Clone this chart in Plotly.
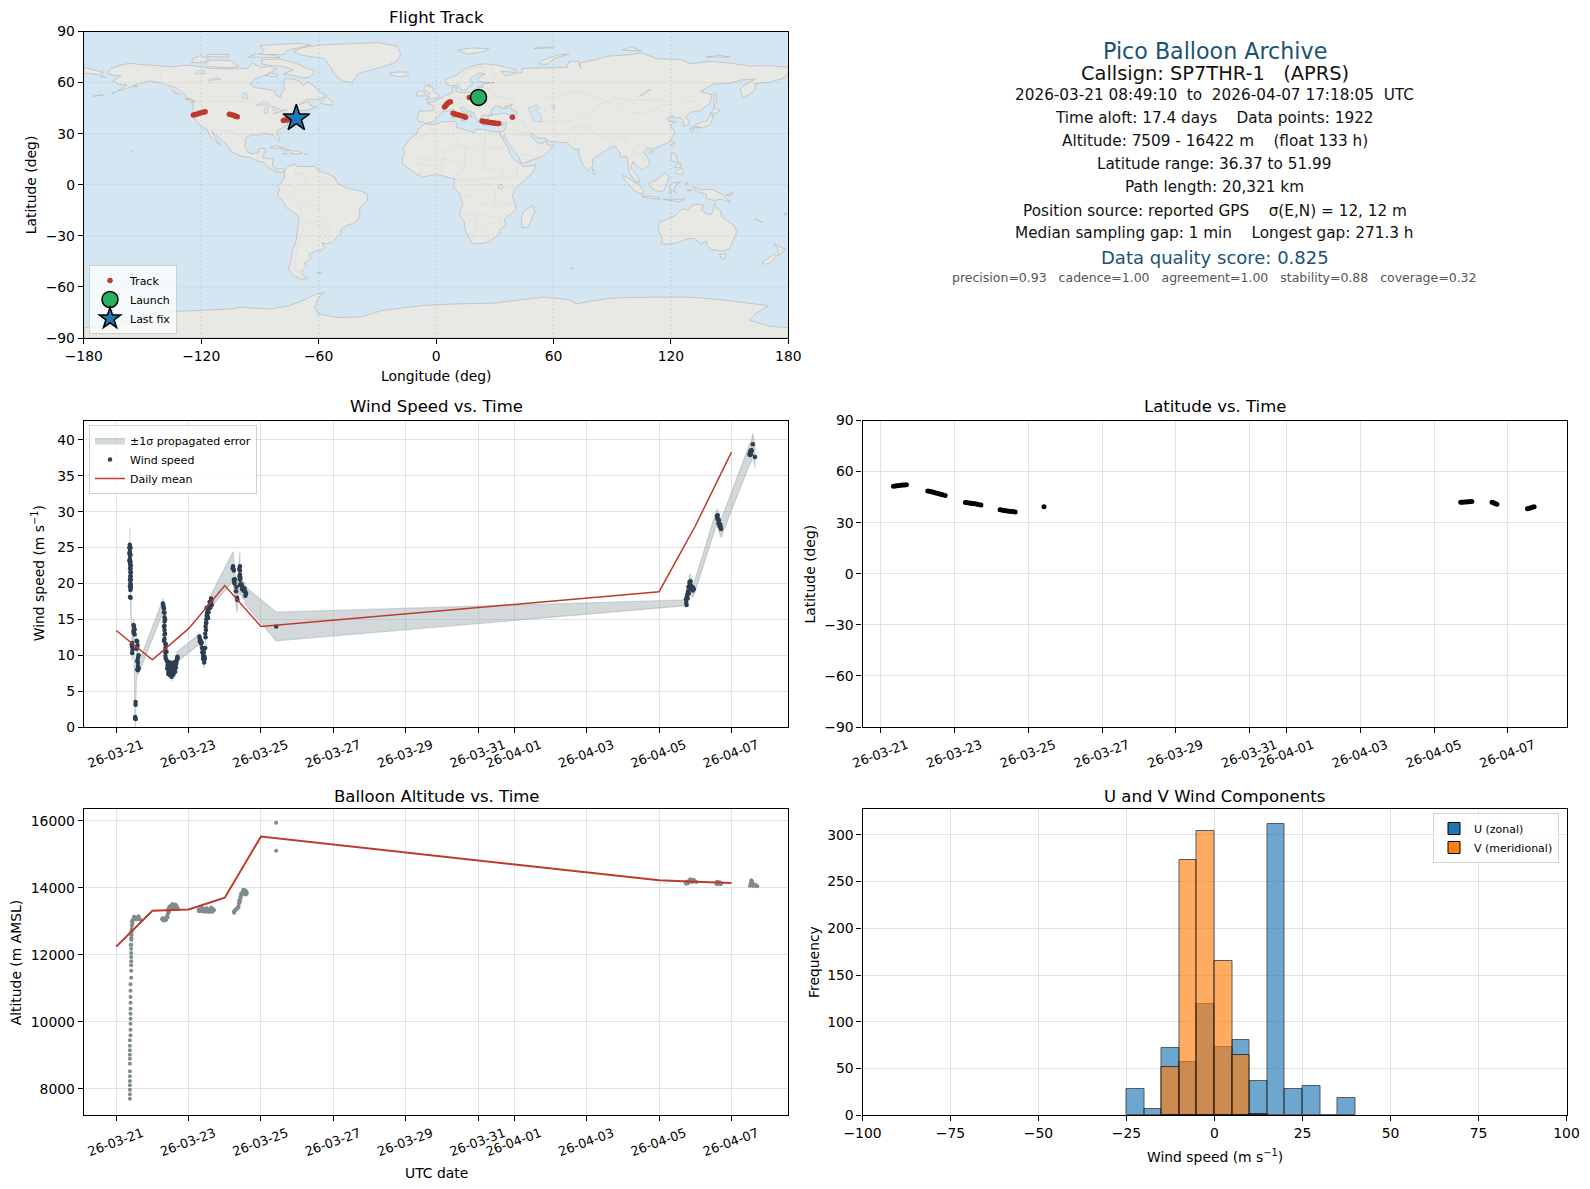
import pandas as pd
import plotly.graph_objects as go

# ---------- map outlines (lon, lat) ----------
NORTH_AMERICA = [(-168,65.5),(-166,68.3),(-161,70.3),(-156.5,71.3),(-150,70.5),(-141,69.7),(-135,69.3),(-128,70.2),(-123,69.7),(-115,68.2),(-108,68),(-102,68),(-96,68.5),(-94,71.5),(-90,69),(-85,69.5),(-81.5,68),(-85,66),(-87,64.5),(-93,62),(-94.8,59),(-92.5,57),(-88,56.5),(-82.5,55),(-82,52.8),(-79.5,51.3),(-79,54),(-77,56),(-78,58.5),(-77.5,62.3),(-73,62),(-70,61),(-68,58.5),(-65,60.3),(-62,57.5),(-60,55),(-56,52.5),(-60,50.2),(-66,50.2),(-70,47),(-65,49),(-64.5,46.5),(-61,45.5),(-66,43.8),(-70,43.5),(-70.5,41.8),(-74,40.5),(-75.5,38),(-76,35),(-78,33.8),(-81,32),(-81.3,30),(-80,26.8),(-80.5,25.2),(-82,27),(-83,29),(-85,29.7),(-89,30.3),(-90,29),(-94,29.5),(-97.3,27.5),(-97.7,22.3),(-96,19),(-94,18.2),(-91,18.7),(-90.5,21),(-87,21.5),(-88,18),(-88.8,15.9),(-83.3,15),(-83.7,11),(-81.5,9),(-79.5,9.5),(-77.3,8.7),(-77.8,7.5),(-80,7.3),(-83,8.3),(-85.8,10),(-87.5,13),(-91.5,14),(-95,16),(-99,16.6),(-105,19.5),(-105.6,22),(-109,25.7),(-112.5,29.5),(-114.7,31.5),(-112,26),(-110,23),(-112,25),(-115,28),(-117.1,32.5),(-120.5,34.5),(-122.5,37.5),(-124.3,40.3),(-124,46),(-124.7,48.4),(-123,49),(-127,51),(-130,54.5),(-133,57),(-137,58.5),(-141,60),(-147,61),(-151,59.5),(-154,58.5),(-158,56.5),(-163,55),(-158,58.5),(-162,59),(-165,61),(-161,64),(-166,64.5)]
EURASIA = [(-9,37),(-9.5,38.8),(-8.8,43.2),(-1.5,43.5),(-1,46),(-4.7,48.3),(-1.5,48.7),(1.5,50.5),(4,52),(7,53.5),(8.5,54),(8.2,57),(10.5,57.5),(10,55),(12,54.2),(14,54),(19,54.4),(21,55.5),(21.5,57.5),(24,57.3),(23.5,59.2),(28,59.6),(30,60),(25,60.2),(21.5,60.7),(21.5,63),(25,65),(22,65.7),(17.5,62.5),(17.5,60.5),(19,59.8),(16.5,57),(16,56),(13,55.5),(11,59),(8,58),(5.5,59),(5,62),(10,64),(14,67.5),(19,70),(25,71),(31,70.2),(41,67.5),(40,66),(35,66.5),(33,66.7),(35,64.3),(37.5,64),(40,65.5),(44,66),(44,68.3),(54,68.5),(60,69),(67,69),(68,72.5),(73,72.5),(74,68),(73,71.5),(80,73),(88,75.5),(100,76.5),(105,77.5),(113,74),(125,73.5),(130,71),(140,72.5),(150,71.5),(160,69.7),(170,70),(180,69),(180,65),(177,62.5),(170,60),(163,59.5),(163,56),(160,53),(156.7,51),(155.5,56),(157,58),(163,62),(156,61.5),(150,59.5),(142,59.2),(135,54.7),(141,53),(140,48),(135,43.5),(130,42.5),(127.5,39.8),(129.5,37),(129,35.2),(126.3,34.5),(126.5,37.5),(125,39.7),(121.5,39),(121,40.8),(118,39),(119,37.3),(122.5,37),(119.5,35),(122,31),(121,28),(119,25),(114,22.3),(110,21),(108,21.7),(106,19),(109,14),(109,11.5),(105,8.7),(103,11),(100.5,13.5),(99.5,10),(103,5),(104,1.4),(101,2.8),(98.5,8),(98,14),(97,16.8),(94.5,16),(94,18.5),(91.5,22.5),(89,21.8),(86.5,20),(82,16.3),(80,15),(80,11),(77.5,8),(75,12),(73,18),(72.8,21),(70,21),(67,24.8),(61.5,25),(57,25.7),(56.5,27),(52,27.5),(49,30.3),(48,29.5),(50,26.5),(51.5,25),(54,24),(56.3,26),(56.5,24),(59.8,22.5),(55,17),(52,15.7),(45,12.8),(43.3,12.8),(42.5,16),(39,21),(35.5,27.5),(34.9,29.5),(34,27.9),(32.7,29.8),(32.3,31.2),(34.3,31.3),(35.5,33.5),(36,36.7),(32,36),(29,36.5),(27.3,37),(26.5,39.3),(26.7,40.3),(29,40.9),(31.5,41.2),(35,42),(38,41),(41.5,41.6),(41,43),(37.5,45),(39,47.2),(35,46),(36.5,45.2),(33.5,44.5),(33,46),(30.5,46.3),(28.5,44.5),(28,42),(29,41.2),(27,40.7),(26,40.8),(23.5,40.5),(23,39),(24,38),(23,36.5),(21.5,37),(19.5,40.5),(19.5,42),(15.5,43.8),(13.7,45.5),(12.3,45.3),(12.5,44),(16,41.7),(18.5,40.2),(16.8,40.3),(16,38),(15.7,40),(12.5,41.5),(10.3,43),(8.7,44.4),(6,43),(3.2,43.3),(3,41.7),(0,39.5),(-0.5,38),(-2,36.8),(-5.5,36),(-6.5,37)]
AFRICA = [(-5.8,35.8),(-2,35.2),(3,36.9),(10,37.2),(11,34.5),(10.3,33.7),(15,32.3),(19.5,30.5),(20,32.5),(23,32.7),(29,31),(32.3,31.2),(32.6,29.8),(35.5,24),(37.2,21),(37.5,18.5),(39.5,15.5),(43.2,12),(44.5,10.5),(51.2,11.8),(49,6.5),(44,1.5),(40,-3),(39,-6.5),(40.5,-11),(40.7,-15),(35,-20),(35.5,-24),(32.8,-26),(32.5,-28.5),(28,-33),(25.5,-34),(20,-34.8),(18.3,-34),(15,-27),(14.5,-22),(11.8,-17),(13.7,-11),(12,-5.5),(9,-1),(9.7,3.5),(5.5,4.5),(1,6),(-4,5.2),(-7.5,4.4),(-13,8.8),(-17,12),(-17.5,14.7),(-16,19),(-17,21),(-13,27.5),(-9.8,30),(-9,33)]
SOUTH_AMERICA = [(-77.3,8.7),(-75,11),(-72,12.2),(-71.5,10.8),(-68,10.7),(-62,10.7),(-60,8.5),(-52,4.7),(-50,0.5),(-44.5,-2.5),(-39,-3.5),(-35,-5.5),(-35,-9),(-39,-14),(-39,-18),(-41,-22),(-45,-23.7),(-48.5,-26),(-48.5,-28.5),(-53.5,-34),(-56.5,-34.8),(-58.3,-34),(-57,-36.5),(-58,-38.3),(-62,-39),(-65,-41),(-63.8,-42.5),(-65.5,-45),(-67.5,-46),(-66,-48),(-69,-51),(-68.5,-52.5),(-65.5,-55),(-69,-55.5),(-73,-53),(-75.5,-50),(-74,-44),(-73.5,-39),(-71.5,-33),(-71,-28),(-70,-20),(-71,-17.5),(-76,-14),(-78,-10),(-81,-6),(-80,-3),(-81,-1),(-79,1.5),(-77.5,4),(-77.5,7.5)]
AUSTRALIA = [(114,-22),(113.5,-26),(115.7,-32),(115,-34.4),(118,-35),(123.5,-33.9),(129,-31.6),(131.5,-31.5),(135.5,-34.8),(138,-33),(138.5,-35.5),(140.5,-38),(144,-38.5),(146.5,-39),(150,-37.5),(151.5,-33),(153.5,-28),(153,-25),(149,-21),(146,-19),(145.3,-15),(143.5,-14),(142.5,-10.8),(141.5,-15),(141,-17),(139,-17.5),(135.5,-15),(136.8,-12),(132.5,-11.5),(130,-13),(129,-15),(126,-14),(122.2,-18),(119,-20)]
ANTARCTICA = [(-180,-90),(-180,-84),(-165,-83),(-150,-78),(-145,-75),(-125,-74),(-105,-73),(-100,-72),(-85,-73),(-75,-71),(-68,-68),(-62,-64.5),(-57,-63.3),(-60,-66),(-62,-72),(-60,-76),(-50,-78),(-38,-77.5),(-28,-74),(-15,-72),(-5,-70.8),(10,-70),(30,-69.5),(40,-68),(55,-66),(68,-67.5),(72,-70),(78,-68.5),(90,-66.5),(110,-66),(130,-66),(145,-67.5),(160,-69.5),(170,-71),(163,-76),(160,-79.5),(170,-83),(180,-84),(180,-90)]
GREENLAND = [(-73,78.2),(-68,80.5),(-60,82),(-45,82.7),(-30,83.5),(-20,81.5),(-18,77),(-20,72.5),(-25,70),(-33,67.5),(-40,65),(-43,60),(-48,61),(-52,65),(-54,69.5),(-57,74),(-68,76)]
ISLANDS = [
 [(-80,73.8),(-72,71.5),(-67,69),(-62,66.7),(-64.5,63),(-68,62.7),(-74,64.5),(-78,65),(-73,67.5),(-78,69.5),(-85,70),(-89,71),(-89,73.5)],
 [(-117,69.5),(-105,68.7),(-101,69.5),(-105,73),(-115,73.2),(-118,71.5)],
 [(-125,72),(-120,71.5),(-116,73.5),(-120,76),(-124,74.5)],
 [(-90,76.5),(-78,76.5),(-76,79),(-64,82),(-70,83),(-90,81.8),(-88,79)],
 [(-96,75),(-80,74.7),(-82,76),(-92,76.8)],
 [(-117,75.2),(-106,75),(-106,76.5),(-117,76.5)],
 [(-59,47.7),(-53,46.7),(-53,48.8),(-56,51.5),(-58,50)],
 [(-87,64),(-81,63.5),(-81,65),(-85,65.7)],
 [(-24,65.5),(-22,64),(-18,63.4),(-14,64.5),(-15,66.2),(-20,66.2)],
 [(-5.5,50),(1,51),(1.7,52.7),(0,53.5),(-1.7,55.5),(-2,57.6),(-4,57.7),(-3,58.6),(-5.2,58.5),(-6,56.5),(-4.8,54.8),(-3,53.5),(-5,52),(-3,51.3)],
 [(-10,52),(-6.3,52.2),(-5.6,54.5),(-8,55.2),(-10,54)],
 [(11,79),(16,76.7),(24,78),(27,80),(18,80.3)],
 [(52,71),(57,70.7),(60,74),(68,76.8),(62,76.2),(54,73)],
 [(95,79),(105,78.5),(100,81)],[(138,75),(150,75),(145,76)],[(50,80),(60,80.5),(55,81)],
 [(142,46),(143.5,49),(143,54),(142,53.5),(142,49)],
 [(140,42),(143,42),(145.3,43.5),(142,45.5),(141.5,43.5)],
 [(131,34),(135.5,33.5),(140,35),(141,38),(141.5,41),(140,41),(139,38),(136.5,37),(133,35.5)],
 [(130,33.5),(132,33),(131,31),(130,31.5)],[(132.5,34),(134.5,34.2),(134,33)],
 [(120.2,23),(121,22),(122,25),(121,25.2)],[(108.7,19),(110.5,18.2),(111,20),(109.5,20)],
 [(120,16),(120.5,14),(124,13),(122,18.5),(120.5,18.5)],[(122,7),(125.5,5.8),(126.5,8),(125.5,9.8),(123,8.5)],[(122,10),(125,10.5),(125,12.5),(122.5,11.8)],
 [(109,1),(110,-2),(114,-4),(116.5,-3.5),(118,1),(119,5),(117,7),(113,3),(111,2)],
 [(95.3,5.6),(98,4),(103.7,0),(106,-3.5),(105.7,-5.8),(102,-4),(99,-0.5),(96,3.5)],
 [(105.3,-6.8),(108.5,-6.6),(114.5,-7.7),(114.3,-8.6),(108,-7.8)],
 [(119.5,-5.5),(120.5,-2.8),(122.5,-5),(121.5,-2),(123,0.5),(125,1.5),(120.5,1),(119.5,-1.5)],
 [(131,-1),(135,-3),(141,-2.6),(146,-5.5),(150.7,-10.5),(146,-8.5),(142,-9.2),(138,-8),(138,-5.5),(133,-4),(132,-2.5)],
 [(116,-8.6),(124,-8.3),(127,-8.5),(124,-10),(119,-9)],[(148,-6),(152,-4.5),(150,-6.2)],[(127.5,1.5),(128.5,1),(128,-0.5)],[(128,-3),(130.5,-3),(129,-3.6)],
 [(80,9.5),(81.8,7),(80.5,6),(79.8,8)],
 [(49.3,-12),(50.5,-16),(47,-25),(44,-25),(43.5,-21),(44.5,-16)],
 [(144.8,-40.8),(148.2,-40.8),(147.5,-43.5),(146,-43.5)],
 [(172.7,-34.5),(175.5,-36.5),(178.3,-37.7),(176.8,-40),(175,-41.5),(174.7,-38)],
 [(172.7,-40.6),(174.3,-41.7),(171,-45.5),(168.5,-46.7),(166.5,-45.8),(170,-43)],
 [(-85,21.9),(-82,23.1),(-77,21),(-74.2,20.2),(-77.7,19.9),(-78.5,21)],
 [(-74.4,18.4),(-71,18),(-68.4,18.6),(-70,19.8),(-73,19.9)],[(-78.3,18.3),(-76.3,18),(-77,18.5)],[(-67.2,18),(-65.6,18.2),(-66.5,18.5)],
 [(8.4,39),(9.6,39.2),(9.6,41),(8.3,41)],[(12.5,38),(15.5,38.2),(15,36.7)],[(23.5,35.3),(26.3,35.2),(24.8,35)],[(32.5,34.8),(34.5,35.5),(33.5,34.7)],
 [(-156,19),(-155,19.6),(-155.9,20.2)],[(-61,-51.5),(-58,-51.3),(-59,-52.3)],[(69,-49),(70.5,-49),(70,-49.7)],
 [(-180,69),(-175,67.5),(-170,66),(-172.5,64.5),(-178,65.5),(-180,65)],
 [(-128.3,50.7),(-125,50),(-123.4,48.4),(-125.5,48.8)],[(-154.5,57.5),(-152.5,57.5),(-153,58.4)],[(-171.5,63.5),(-169,63),(-170,63.8)],
 [(-135,55.5),(-131,53),(-133,53.5)],[(163,-20),(167,-22.3),(165.5,-21.8)],[(178,-18),(179.5,-17),(178.5,-16.5)],
 [(-166,53.5),(-163.5,54.5),(-165,54.2)],[(-175,52),(-170,52.8),(-172,52.3)],
]
WATER = [
 [(47,45),(51.5,47),(53,45),(51,44.5),(53.5,41),(54,37),(50,37.3),(49,40),(47.5,43)],
 [(59,46),(61,46.5),(60,44)],
 [(-92,46.8),(-88,48.5),(-85,47.8),(-85,46.6),(-88,46.7)],[(-87.8,42),(-86.3,42),(-85.5,45.5),(-87.5,45)],[(-84,46),(-80,44.7),(-82,43.2),(-83.5,44)],[(-83.3,41.7),(-79,42.8),(-79,43),(-82,42.5)],[(-79.7,43.3),(-76.3,43.5),(-76.5,44.2),(-79,43.9)],
 [(-99,51),(-96,50.5),(-97,54),(-99,53.5)],[(-123,65),(-118,65),(-118,67),(-122,67)],[(-116,61),(-110,62),(-112,62.8),(-116,62)],
 [(104,51.7),(110,56),(109,56),(103.8,52)],[(32,0),(34,0.3),(34,-2.5),(32,-2.5)],
]
BORDERS = [
 [(-123,49),(-95,49),(-89,48),(-83,46),(-79,43),(-75,45),(-70,46),(-67,45)],[(-141,69.7),(-141,60),(-130,55)],
 [(-117,32.5),(-106.5,31.8),(-101,29.5),(-97.3,26)],[(-92,14.5),(-91,17.5),(-89,18)],[(-83.5,11),(-86,11),(-87.5,13)],
 [(-72,12),(-72,7),(-67,6),(-67,1),(-70,-4),(-74,-7),(-70,-11),(-69,-16),(-69,-22),(-68,-27),(-70,-33),(-71.5,-40),(-72,-50),(-69,-52)],
 [(-60,8.5),(-61,5),(-64,4),(-67,1)],[(-60,5),(-57,2),(-52,4.7)],[(-78,-3),(-75,0),(-70,-4)],[(-69,-11),(-65,-10),(-60,-14),(-58,-20),(-55,-25),(-54,-27),(-57,-30),(-53.5,-34)],
 [(-69,-22),(-62,-22),(-58,-20)],[(-62,-22),(-58,-27),(-55,-25)],
 [(-13,27.5),(-8.7,27.5),(-1,32),(-2,35)],[(8.5,37),(9,30),(12,23),(4,19),(-5,25),(-8.7,27.5)],[(12,23),(25,20),(25,32)],[(25,22),(37,22)],[(24,20),(24,9),(34,9),(34,4),(41,4),(42,11)],[(15,23),(15,13),(13,8),(9,4.5)],
 [(4,19),(3,12),(3,6)],[(-12,16),(4,15),(15,13)],[(-8,10),(-8,5)],[(-12,12),(3,11)],[(9,2),(18,3),(30,4),(34,4)],[(12,-6),(17,-7),(22,-11),(30,-13),(35,-11),(40,-11)],[(30,-1),(30,-13)],[(34,-1),(41,-2)],[(12,-17),(24,-18),(33,-20),(32,-26)],[(20,-18),(20,-28),(17,-29)],[(20,-25),(25,-25),(29,-22)],
 [(-1.8,43.3),(3,42.5)],[(-9,42),(-6.5,42),(-7,37)],[(2.5,51),(6,49.5),(8,49),(7.5,47.5),(6,46),(7.5,44)],[(7,53.5),(6,51),(6,49.5)],[(14,54),(15,51),(12,50.5),(13,48),(10,47.5),(7.5,47.5)],[(15,51),(19,49.5),(23,49),(24,52),(23,54.4)],
 [(13,46.5),(17,46),(22,48),(24,47.8),(28,45.5)],[(22,44),(23,41.5),(26.5,41.5)],[(24,52),(32,52),(40,50),(38,47)],[(28,60),(28,56),(32,52)],[(21,56),(28,56)],[(28,70),(30,63),(28,60)],[(14.5,66),(20,69),(25,69)],[(12,59),(13,63),(14.5,66)],[(25,66),(24,68)],
 [(27,36.9),(36,36.7),(44.5,37),(44.5,39.7),(43.5,41)],[(36,33),(39,32),(47,30)],[(42,37),(41,34),(39,32)],[(37,29.5),(47,29)],[(45,37),(46,33),(48,30.5)],[(52,16.5),(45,17.5),(43,17)],[(52,19),(55,22),(52,24)],
 [(61,36.5),(61,31),(61.7,25)],[(61,36.5),(66,37.5),(71,38)],[(61,30),(66,29.5),(70,33),(74,37)],[(71,34),(74,34),(78,35),(79,31),(81,30),(88,27),(92,28),(97,28)],[(70,21),(71,27),(74,32)],[(88,26),(89,22)],[(92,22.5),(92,25),(97,28)],[(97,28),(98,24),(101,21),(100,18),(98,15)],[(101,21),(105,23),(108,21.7)],[(100,18),(105,18),(107,14),(105,10.5)],
 [(50,45),(55,51),(61,51),(71,55),(77,53),(83,51),(87,49)],[(87,49),(80,45),(80,42),(74,40),(71,38)],[(53,42),(56,41),(56,45)],[(54,37.5),(61,36.5)],[(87,49),(92,51),(98,50),(107,50),(116,50),(120,53),(127,50),(135,48),(131,43)],[(87,49),(92,45),(100,42),(110,43),(116,47),(120,47),(116,50)],[(124,40),(130,42.5)],[(126,38),(128.5,38.5)],
]
OCEAN_BG = "#d4e6f1"
LAND_FILL = "#e8e8e4"
LAND_EDGE = "#bdbdbd"
BORDER_EDGE = "#dcdcd8"

# ---------- track ----------
TRACK_LON = [-124,-123,-122,-121,-120,-119,-118,-105.6,-105,-104,-103,-102.5,-101.6,-78,-77,-76,-75.5,-73,
             4.3,4.8,5.3,5.8,6.5,7.3,8.7,9.5,10.5,11.5,12.5,13.5,14.5,15,17,23.5,24.5,25.5,26.5,27.5,28.5,29.5,30.5,31.5,32,39]
TRACK_LAT = [41,41.2,41.6,42,42.3,42.6,42.9,41.4,41.2,40.9,40.5,40.2,40,37.8,38,38.1,38.2,38.6,
             45.7,46.3,47,47.7,48.3,48.8,42,41.6,41.2,41,40.7,40.4,40.1,39.6,51.3,37.4,37.2,37,36.8,36.6,36.4,36.2,36.1,36,35.9,39.6]
LAUNCH_LON, LAUNCH_LAT = [21.7], [51.3]
LAST_LON, LAST_LAT = [-71.4], [39]

# ---------- wind ----------
WIND_DAY = [.375,.378,.378,.380,.380,.378,.385,.385,.392,.392,.392,.392,.392,.392,.398,.44,.44,.44,.49,.49,.49,.525,.535,.535,.58,.58,.60,.60,.60,.60,
 1.30,1.31,1.335,1.335,1.335,1.335,1.335,1.335,1.335,1.36,1.36,1.36,1.36,1.40,1.42,1.43,1.44,1.45,1.47,1.49,1.50,1.51,1.53,1.54,1.55,1.56,1.58,1.60,1.61,1.63,1.65,1.67,1.69,
 2.31,2.31,2.35,2.37,2.38,2.40,2.42,2.43,2.45,2.46,2.47,2.48,2.49,2.50,2.51,2.53,2.55,2.57,2.59,2.61,2.63,
 3.23,3.24,3.25,3.27,3.31,3.34,3.42,3.42,3.42,3.42,3.42,3.48,3.48,3.57,3.57,4.42,
 15.75,15.77,15.80,15.83,15.85,15.88,15.90,15.93,15.96,16.60,16.63,16.66,16.68,16.71,17.50,17.53,17.56,17.59,17.65]
WIND_SPEED = [25.4,24.9,24.4,23.9,23.4,23.0,22.6,22.1,21.6,21.0,20.5,20.0,19.5,19.1,18.0,11.7,11.2,10.3,14.0,13.5,13.1,1.2,3.1,3.5,11.9,11.0,9.6,9.0,8.5,7.9,
 17.0,16.7,15.9,15.3,14.7,14.1,13.5,12.9,12.3,11.6,11.0,10.4,9.9,9.2,8.6,8.0,9.0,7.6,8.7,8.0,8.8,7.3,7.0,7.8,8.5,7.6,7.3,8.3,7.8,8.8,8.3,9.2,9.8,
 12.3,11.9,11.6,11.0,10.4,9.9,9.4,9.0,9.5,11.0,12.5,13.5,14.5,15.5,15.9,16.3,16.0,16.6,17.0,17.4,17.6,
 22.4,22.0,20.5,20.0,18.9,18.0,22.4,21.8,21.2,20.5,19.8,19.6,19.2,18.8,18.3,14.0,
 17.3,18.2,18.9,19.6,20.0,19.7,19.3,19.0,19.2,29.4,28.9,28.3,27.9,27.6,38.0,38.3,38.5,39.4,37.6]
WIND_SIGMA = [2.4,2.4,2.3,2.3,2.2,2.2,2.1,2.1,2.0,2.0,1.9,1.9,1.8,1.8,1.5,1.0,1.0,1.0,1.2,1.2,1.2,1.8,1.5,1.5,.7,.7,.7,.7,.7,.7,
 .9,.9,.7,.7,.7,.6,.6,.6,.6,.6,.6,.6,.6,.6,.6,.6,.6,.6,.6,.6,.6,.6,.6,.6,.6,.6,.6,.6,.6,.6,.6,.6,.7,
 .7,.7,.7,.7,.7,.8,.8,.8,.8,.8,.8,.8,.8,.8,.8,.8,.8,.8,.8,.8,.9,
 2.0,2.0,1.5,1.5,1.5,2.0,2.0,1.8,1.6,1.4,1.3,1.3,1.2,1.2,1.2,2.0,
 .4,.8,1.2,1.4,1.4,1.3,1.0,.9,.8,1.0,1.1,1.2,1.2,1.2,1.4,1.5,1.5,1.5,1.5]
WIND_EXTRA_DAY = [.365,.365,.365,.395,.395,.395,.395,.395,.405,.405,.405,.405,.405,.38,.38,.38,.43,.45,.48,.51,.48,.51,.56,.59,.56,.62,.58,.62,.58,.525,.54,
 1.29,1.32,1.32,1.35,1.32,1.35,1.32,1.37,1.39,1.37,1.41,1.43,1.44,1.46,1.47,1.48,1.49,1.50,1.52,1.53,1.54,1.55,1.57,1.58,1.59,1.60,1.62,1.63,1.64,1.66,1.68,1.70,
 2.30,2.33,2.36,2.39,2.41,2.44,2.40,2.42,2.47,2.46,2.49,2.48,2.50,2.52,2.54,2.56,2.58,2.60,2.62,2.64,
 3.22,3.25,3.26,3.28,3.40,3.41,3.43,3.44,3.46,3.50,3.52,3.54,3.55,3.59,3.32,3.35,
 15.74,15.76,15.78,15.79,15.81,15.82,15.84,15.86,15.87,15.89,15.92,15.94,16.61,16.62,16.64,16.65,16.67,16.69,16.70,17.51,17.52,17.54,17.55]
WIND_EXTRA_SPEED = [25.0,24.2,23.2,25.0,24.0,23.0,22.0,21.0,22.5,21.5,20.5,19.8,19.4,20.5,19.6,18.1,11.5,10.8,14.2,13.6,13.3,12.9,12.0,11.4,10.9,10.0,9.2,8.2,8.0,1.4,1.1,
 17.2,16.5,16.0,15.0,14.0,13.0,12.0,11.5,10.5,9.5,8.2,9.0,7.4,8.1,7.6,9.0,7.2,8.0,8.6,7.8,8.9,7.3,8.1,8.6,7.6,9.0,8.2,7.7,9.1,8.8,9.5,9.6,
 12.6,12.1,11.8,11.0,10.2,9.8,9.5,10.5,14.0,13.0,15.0,14.5,16.6,15.5,15.2,16.8,17.4,16.6,17.9,17.0,
 22.1,21.8,20.2,20.6,22.0,21.0,20.8,19.9,19.9,19.4,19.0,18.9,19.3,18.6,19.5,17.7,
 17.8,17.0,18.5,17.9,19.5,18.6,20.2,19.3,20.3,19.2,19.5,19.4,29.0,29.5,28.4,28.8,28.0,28.2,27.9,37.9,38.4,38.0,38.6]
MEAN_DAY = [0,1,2,3,4,15,16,17]
MEAN_WIND = [13.45,9.35,13.7,19.7,14.0,18.85,28.0,38.3]

# ---------- latitude ----------
LAT_DAY = [.34,.39,.44,.49,.54,.59,.64,.69,1.27,1.32,1.37,1.42,1.47,1.52,1.57,1.62,1.67,1.74,2.29,2.34,2.39,2.44,2.49,2.54,2.59,2.64,2.71,
 3.23,3.28,3.33,3.38,3.43,3.48,3.53,3.58,3.64,4.42,15.72,15.77,15.82,15.87,15.92,15.97,16.02,16.57,16.61,16.65,16.70,17.53,17.57,17.61,17.66,17.71]
LAT_VAL = [51.4,51.5,51.7,51.9,52.0,52.1,52.1,52.2,48.6,48.4,48.1,47.9,47.6,47.3,47.0,46.7,46.4,45.9,41.8,41.7,41.6,41.4,41.3,41.1,40.9,40.7,40.4,
 37.6,37.4,37.2,37.0,36.9,36.7,36.6,36.5,36.3,39.4,42,42.05,42.1,42.2,42.3,42.3,42.4,42,41.7,41.3,40.8,38.2,38.4,38.6,39,39.4]

# ---------- altitude ----------
ALT_DAY = [.378]*13+[.396]*10+[.414]*8+[.414,.42,.425,.43,.435,.442,.47,.534,.60,.672,
 1.27,1.30,1.335,1.36,1.39,1.41,1.43,1.44,1.455,1.48,1.50,1.54,1.575,1.61,1.64,1.67,1.70,
 2.28,2.31,2.34,2.37,2.40,2.43,2.46,2.49,2.52,2.55,2.58,2.61,2.64,2.67,2.70,
 3.25,3.28,3.33,3.37,3.39,3.41,3.43,3.45,3.49,3.53,3.56,3.59,3.61,4.42,4.42,
 15.73,15.78,15.83,15.88,15.93,15.98,16.03,16.58,16.62,16.67,16.72,17.51,17.53,17.55,17.58,17.62,17.68,17.71,
 1.28,1.31,1.34,1.37,1.40,1.42,1.45,1.43,1.47,1.46,1.52,1.55,1.60,1.63,1.66,1.69,
 2.29,2.33,2.36,2.38,2.42,2.47,2.50,2.53,2.56,2.60,2.63,2.66,2.69,
 3.26,3.30,3.35,3.38,3.40,3.42,3.44,3.46,3.48,3.51,3.55,3.58,3.60,
 .45,.49,.53,.57,.62,.65,.44,.42,.40,.42,.42,
 15.75,15.81,15.86,15.91,15.96,16.60,16.65,16.70,16.60,17.54,17.57,17.60,17.66]
ALT_VAL = [7702,7831,7970,8100,8229,8368,8517,8746,8896,9015,9144,9284,9443,9592,9761,9940,10090,10239,10388,10567,10736,10925,11115,11314,11523,11682,11801,11931,12050,12179,12299,
 12478,12577,12677,12776,12876,12975,13045,13115,13105,13045,
 13055,13050,13055,13070,13105,13150,13224,13300,13373,13420,13453,13460,13473,13470,13453,13420,13373,
 13340,13350,13370,13380,13350,13330,13370,13320,13350,13330,13320,13380,13360,13330,13330,
 13293,13320,13380,13423,13520,13622,13720,13820,13870,13890,13880,13850,13830,15940,15105,
 14160,14180,14210,14220,14220,14190,14170,14130,14160,14160,14130,14060,14150,14220,14130,14080,14060,14040,
 13090,13020,13090,13030,13140,13110,13280,13340,13430,13280,13400,13510,13420,13500,13480,13400,
 13300,13310,13430,13300,13290,13280,13390,13290,13280,13280,13410,13280,13360,
 13250,13340,13380,13430,13600,13580,13700,13800,13800,13940,13930,13800,13890,
 12950,13130,13060,13060,13150,13060,13010,12700,12300,12450,12500,
 14120,14140,14250,14170,14240,14100,14120,14100,14180,14100,14180,14050,14090]
MEAN_ALT = [12240,13313,13350,13700,15530,14220,14180,14140]

# ---------- histogram ----------
U_CENTERS = [-22.5,-17.5,-12.5,-7.5,-2.5,2.5,7.5,12.5,17.5,22.5,27.5,32.5,37.5]
U_COUNTS = [28,7,72,57,119,73,81,37,312,28,31,0,18]
V_CENTERS = [-12.5,-7.5,-2.5,2.5,7.5,12.5]
V_COUNTS = [52,273,304,165,64,1]

# ---------- text ----------
DATE_TICK_DAYS = [0,2,4,6,8,10,11,13,15,17]
DATE_TICK_TEXT = ["26-03-21","26-03-23","26-03-25","26-03-27","26-03-29","26-03-31","26-04-01","26-04-03","26-04-05","26-04-07"]
INFO_LINES = [
 ("Pico Balloon Archive", 22.2, "#1a5276", 51),
 ("Callsign: SP7THR-1   (APRS)", 19.4, "#111111", 74),
 ("2026-03-21 08:49:10  to  2026-04-07 17:18:05  UTC", 15.28, "#111111", 95),
 ("Time aloft: 17.4 days    Data points: 1922", 15.28, "#111111", 118),
 ("Altitude: 7509 - 16422 m    (float 133 h)", 15.28, "#111111", 141),
 ("Latitude range: 36.37 to 51.99", 15.28, "#111111", 164),
 ("Path length: 20,321 km", 15.28, "#111111", 187),
 ("Position source: reported GPS    σ(E,N) = 12, 12 m", 15.28, "#111111", 210.5),
 ("Median sampling gap: 1 min    Longest gap: 271.3 h", 15.28, "#111111", 233.5),
 ("Data quality score: 0.825", 18, "#1a5276", 257),
 ("precision=0.93   cadence=1.00   agreement=1.00   stability=0.88   coverage=0.32", 12.5, "#555555", 278),
]

# ---------- helpers ----------
BASE = pd.Timestamp("2026-03-21")
def to_time(days):
    return [BASE + pd.Timedelta(days=float(d)) for d in days]
def paths(polys):
    xs, ys = [], []
    for p in polys:
        xs += [q[0] for q in p] + [p[0][0], None]
        ys += [q[1] for q in p] + [p[0][1], None]
    return xs, ys
def lines(polys):
    xs, ys = [], []
    for p in polys:
        xs += [q[0] for q in p] + [None]
        ys += [q[1] for q in p] + [None]
    return xs, ys

W, H = 1574, 1173
OX, OY = 8, 8
def xd(a, b): return [(a-OX)/W, (b-OX)/W]
def yd(t, b): return [1-(b-OY)/H, 1-(t-OY)/H]
COLS = [(83.8, 788.3), (862.5, 1566.5)]
ROWS = [(31.5, 338), (420.5, 727), (809, 1115.3)]
FONT = "DejaVu Sans"
GRID = "#e2e2e2"

fig = go.Figure()

land = [NORTH_AMERICA, EURASIA, AFRICA, SOUTH_AMERICA, AUSTRALIA, ANTARCTICA, GREENLAND] + ISLANDS
lx, ly = paths(land)
fig.add_trace(go.Scatter(x=lx, y=ly, mode="lines", fill="toself", fillcolor=LAND_FILL, line=dict(color=LAND_EDGE, width=0.8),
                         showlegend=False, hoverinfo="skip", xaxis="x", yaxis="y"))
bx, by = lines(BORDERS)
fig.add_trace(go.Scatter(x=bx, y=by, mode="lines", line=dict(color=BORDER_EDGE, width=0.7), showlegend=False, hoverinfo="skip", xaxis="x", yaxis="y"))
wx, wy = paths(WATER)
fig.add_trace(go.Scatter(x=wx, y=wy, mode="lines", fill="toself", fillcolor=OCEAN_BG, line=dict(color=LAND_EDGE, width=0.6),
                         showlegend=False, hoverinfo="skip", xaxis="x", yaxis="y"))
MAP_XT = [-180,-120,-60,0,60,120,180]
MAP_YT = [-90,-60,-30,0,30,60,90]
gx = sum(([v,v,None] for v in MAP_XT), [])
gy = sum(([-90,90,None] for v in MAP_XT), [])
gx2 = sum(([-180,180,None] for v in MAP_YT), [])
gy2 = sum(([v,v,None] for v in MAP_YT), [])
fig.add_trace(go.Scatter(x=gx+gx2, y=gy+gy2, mode="lines", line=dict(color="rgba(120,120,120,0.28)", width=0.7, dash="2px,2px"),
                         showlegend=False, hoverinfo="skip", xaxis="x", yaxis="y"))
fig.add_trace(go.Scatter(x=TRACK_LON, y=TRACK_LAT, mode="markers", name="Track", marker=dict(color="#c0392b", size=5.5),
                         xaxis="x", yaxis="y", legend="legend"))
fig.add_trace(go.Scatter(x=LAUNCH_LON, y=LAUNCH_LAT, mode="markers", name="Launch",
                         marker=dict(color="#27ae60", size=16, line=dict(color="black", width=1.5)), xaxis="x", yaxis="y", legend="legend"))
fig.add_trace(go.Scatter(x=LAST_LON, y=LAST_LAT, mode="markers", name="Last fix",
                         marker=dict(color="#1f77b4", size=20, symbol="star", line=dict(color="black", width=1.5)), xaxis="x", yaxis="y", legend="legend"))

t = to_time(WIND_DAY)
up = [a+b for a, b in zip(WIND_SPEED, WIND_SIGMA)]
lo = [a-b for a, b in zip(WIND_SPEED, WIND_SIGMA)]
fig.add_trace(go.Scatter(x=t+t[::-1], y=up+lo[::-1], mode="lines", fill="toself", fillcolor="rgba(149,165,166,0.42)", line=dict(width=1.2, color="rgba(149,165,166,0.42)"),
                         name="±1σ propagated error", hoverinfo="skip", xaxis="x2", yaxis="y2", legend="legend2"))
fig.add_trace(go.Scatter(x=t+to_time(WIND_EXTRA_DAY), y=WIND_SPEED+WIND_EXTRA_SPEED, mode="markers", name="Wind speed", marker=dict(color="#2c3e50", size=4.5), xaxis="x2", yaxis="y2", legend="legend2"))
fig.add_trace(go.Scatter(x=to_time(MEAN_DAY), y=MEAN_WIND, mode="lines", name="Daily mean", line=dict(color="#c0392b", width=1.5), xaxis="x2", yaxis="y2", legend="legend2"))

fig.add_trace(go.Scatter(x=to_time(LAT_DAY), y=LAT_VAL, mode="markers", marker=dict(color="black", size=5), showlegend=False, xaxis="x3", yaxis="y3"))

fig.add_trace(go.Scatter(x=to_time(ALT_DAY), y=ALT_VAL, mode="markers", marker=dict(color="#7f8c8d", size=4), showlegend=False, xaxis="x4", yaxis="y4"))
fig.add_trace(go.Scatter(x=to_time(MEAN_DAY), y=MEAN_ALT, mode="lines", line=dict(color="#c0392b", width=2), showlegend=False, xaxis="x4", yaxis="y4"))

fig.add_trace(go.Bar(x=U_CENTERS, y=U_COUNTS, width=5, name="U (zonal)", marker=dict(color="#1f77b4", opacity=0.65, line=dict(color="black", width=1)), xaxis="x5", yaxis="y5", legend="legend3"))
fig.add_trace(go.Bar(x=V_CENTERS, y=V_COUNTS, width=5, name="V (meridional)", marker=dict(color="#ff7f0e", opacity=0.65, line=dict(color="black", width=1)), xaxis="x5", yaxis="y5", legend="legend3"))

AX = dict(showline=True, linecolor="black", linewidth=1.1, mirror=True, ticks="outside", ticklen=5, tickwidth=1.1, tickcolor="black",
          gridcolor=GRID, gridwidth=1, zeroline=False, tickfont=dict(family=FONT, size=13.9, color="black"))
date_range_wide = [BASE + pd.Timedelta(days=-0.895), BASE + pd.Timedelta(days=18.57)]
date_range_lat = [pd.Timestamp("2026-03-20 12:00"), pd.Timestamp("2026-04-08 14:07")]
DATE = dict(type="date", tickmode="array", tickvals=to_time(DATE_TICK_DAYS), ticktext=DATE_TICK_TEXT, tickangle=-20, ticklabelshift=26,
            tickfont=dict(family=FONT, size=12.8, color="black"))

fig.update_layout(
    width=W, height=H, margin=dict(l=0, r=0, t=0, b=0, autoexpand=False), paper_bgcolor="white", plot_bgcolor="white",
    font=dict(family=FONT, color="black"), barmode="overlay", bargap=0,
    xaxis=dict(AX, domain=xd(*COLS[0]), range=[-180,180], tickvals=MAP_XT, showgrid=False, anchor="y"),
    yaxis=dict(AX, domain=yd(*ROWS[0]), range=[-90,90], tickvals=MAP_YT, showgrid=False, anchor="x"),
    xaxis2=dict(AX, **{k: v for k, v in DATE.items()}, domain=xd(*COLS[0]), range=date_range_wide, anchor="y2") if False else dict({**AX, **DATE}, domain=xd(*COLS[0]), range=date_range_wide, anchor="y2"),
    yaxis2=dict(AX, domain=yd(*ROWS[1]), range=[0,42.7], tickvals=[0,5,10,15,20,25,30,35,40], anchor="x2"),
    xaxis3=dict({**AX, **DATE}, domain=xd(*COLS[1]), range=date_range_lat, anchor="y3"),
    yaxis3=dict(AX, domain=yd(*ROWS[1]), range=[-90,90], tickvals=MAP_YT, anchor="x3"),
    xaxis4=dict({**AX, **DATE}, domain=xd(*COLS[0]), range=date_range_wide, anchor="y4"),
    yaxis4=dict(AX, domain=yd(*ROWS[2]), range=[7205,16350], tickvals=[8000,10000,12000,14000,16000], tickformat="d", anchor="x4"),
    xaxis5=dict(AX, domain=xd(*COLS[1]), range=[-100,100], tickvals=[-100,-75,-50,-25,0,25,50,75,100], tickformat="d", anchor="y5"),
    yaxis5=dict(AX, domain=yd(*ROWS[2]), range=[0,327.6], tickvals=[0,50,100,150,200,250,300], anchor="x5"),
    legend=dict(x=(89-OX)/W, y=1-(334-OY)/H, xanchor="left", yanchor="bottom", bgcolor="rgba(255,255,255,0.75)", bordercolor="#d0d0d0", borderwidth=1,
                font=dict(family=FONT, size=11), itemsizing="trace", itemwidth=30),
    legend2=dict(x=(89-OX)/W, y=1-(425-OY)/H, xanchor="left", yanchor="top", bgcolor="rgba(255,255,255,0.8)", bordercolor="#d0d0d0", borderwidth=1,
                 font=dict(family=FONT, size=11), itemsizing="trace", itemwidth=30),
    legend3=dict(x=(1559-OX)/W, y=1-(813-OY)/H, xanchor="right", yanchor="top", bgcolor="rgba(255,255,255,0.8)", bordercolor="#d0d0d0", borderwidth=1,
                 font=dict(family=FONT, size=11), itemsizing="trace", itemwidth=30),
    shapes=[dict(type="rect", xref="x domain", yref="y domain", x0=0, x1=1, y0=0, y1=1, fillcolor=OCEAN_BG, line=dict(width=0), layer="below")],
)

TITLES = [("Flight Track", 0, 0, 3), ("Wind Speed vs. Time", 0, 1, 3.5), ("Latitude vs. Time", 1, 1, 3.5), ("Balloon Altitude vs. Time", 0, 2, 2.5), ("U and V Wind Components", 1, 2, 2.5)]
ann = []
for text, c, r, gap in TITLES:
    ann.append(dict(text=text, xref="paper", yref="paper", x=((COLS[c][0]+COLS[c][1])/2-OX)/W, y=1-(ROWS[r][0]-gap-OY)/H,
                    xanchor="center", yanchor="bottom", showarrow=False, font=dict(family=FONT, size=16.5, color="black"), borderpad=0))
# x axis titles: (text, column, page y); y axis titles: (text, row, page x)
X_TITLES = [("Longitude (deg)", 0, 375.5), ("UTC date", 0, 1173), ("Wind speed (m s<sup>−1</sup>)", 1, 1155.5)]
Y_TITLES = [("Latitude (deg)", 0, 30.5), ("Wind speed (m s<sup>−1</sup>)", 1, 37.5), ("Altitude (m AMSL)", 2, 16.2)]
Y_TITLES_R = [("Latitude (deg)", 1, 809.7), ("Frequency", 2, 813.8)]
for text, c, py in X_TITLES:
    ann.append(dict(text=text, xref="paper", yref="paper", x=((COLS[c][0]+COLS[c][1])/2-OX)/W, y=1-(py-OY)/H,
                    xanchor="center", yanchor="middle", showarrow=False, font=dict(family=FONT, size=13.9, color="black"), borderpad=0))
for text, r, px in Y_TITLES + Y_TITLES_R:
    ann.append(dict(text=text, xref="paper", yref="paper", x=(px-OX)/W, y=1-((ROWS[r][0]+ROWS[r][1])/2-OY)/H, textangle=-90,
                    xanchor="center", yanchor="middle", showarrow=False, font=dict(family=FONT, size=13.9, color="black"), borderpad=0))
for text, size, color, py in INFO_LINES:
    ann.append(dict(text=text.replace("  ", "\u00a0\u00a0"), xref="paper", yref="paper", x=((COLS[1][0]+COLS[1][1])/2-OX)/W, y=1-(py-OY)/H,
                    xanchor="center", yanchor="middle", showarrow=False, font=dict(family=FONT, size=size, color=color), borderpad=0))
fig.update_layout(annotations=ann)
fig.write_html("out.html")
